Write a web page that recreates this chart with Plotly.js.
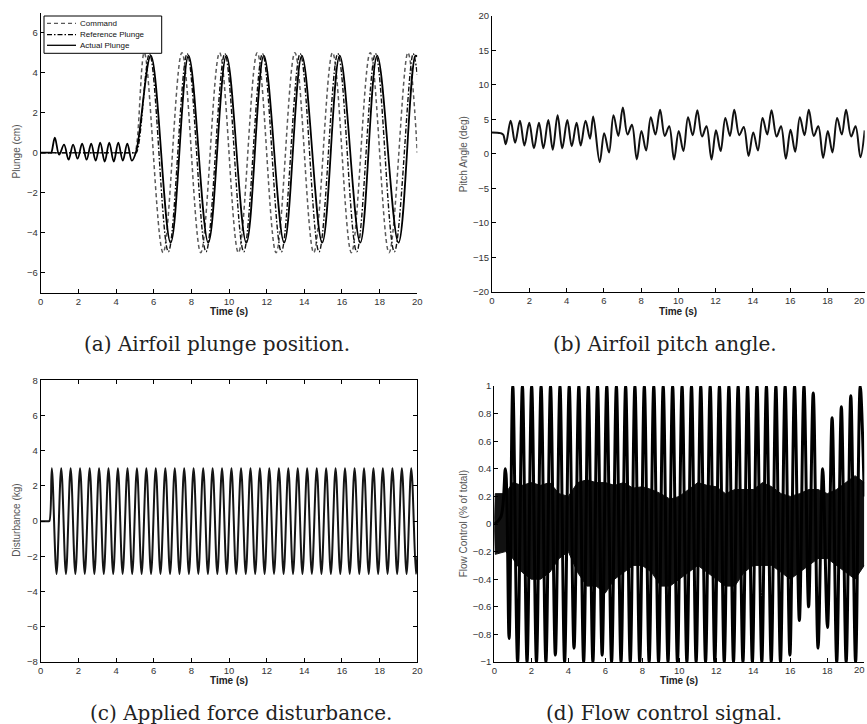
<!DOCTYPE html>
<html>
<head>
<meta charset="utf-8">
<script src="https://cdn.plot.ly/plotly-3.0.1.min.js"></script>
<style>
  html, body { margin: 0; padding: 0; background: #fff; }
  #fig { width: 867px; height: 724px; }
</style>
</head>
<body>
<div id="fig"></div>
<script>
// ---------- (a) plunge position, cm ----------
// turning points of each signal (time in s)
const commandT = [0, 4.9, 5.0, 5.5, 6.5, 7.5, 8.5, 9.5, 10.5, 11.5, 12.5, 13.5, 14.5, 15.5, 16.5, 17.5, 18.5, 19.5, 20.0];
const commandV = [0, 0, 0, 5, -5, 5, -5, 5, -5, 5, -5, 5, -5, 5, -5, 5, -5, 5, 0];

const referenceT = [0, 4.95, 5.08, 5.78, 6.78, 7.78, 8.78, 9.78, 10.78, 11.78, 12.78, 13.78, 14.78, 15.78, 16.78, 17.78, 18.78, 19.78, 20.0];
const referenceV = [0, 0, 0, 4.95, -4.95, 4.95, -4.95, 4.95, -4.95, 4.95, -4.95, 4.95, -4.95, 4.95, -4.95, 4.95, -4.95, 4.95, 3.9];

const actualT = [0, 0.5, 0.56, 0.75, 0.98, 1.24, 1.48, 1.72, 1.96, 2.2, 2.44, 2.68, 2.92, 3.16, 3.4, 3.64, 3.88, 4.12, 4.36, 4.6, 4.84, 5.08,
                 5.85, 6.9, 7.85, 8.9, 9.86, 10.92, 11.85, 12.93, 13.87, 14.95, 15.88, 16.97, 17.87, 19.0, 19.9, 20.0];
const actualV = [0, 0, 0, 0.75, -0.1, 0.4, -0.35, 0.4, -0.3, 0.45, -0.35, 0.45, -0.4, 0.5, -0.45, 0.5, -0.45, 0.5, -0.4, 0.45, -0.4, 0.1,
                 4.85, -4.5, 4.85, -4.5, 4.85, -4.5, 4.85, -4.5, 4.85, -4.5, 4.85, -4.5, 4.85, -4.5, 4.85, 4.8];

// ---------- (b) pitch angle, deg ----------
const pitchT = [0, 0.45, 0.6, 0.74, 1.0, 1.24, 1.5, 1.74, 2.0, 2.25, 2.52, 2.76, 3.02, 3.26, 3.52, 3.77, 4.04, 4.28, 4.54, 4.76,
                5.02, 5.26, 5.43, 5.78, 6.02, 6.28, 6.52, 6.78, 7.02, 7.27, 7.51, 7.77, 8.02, 8.27, 8.52, 8.77, 9.02, 9.27, 9.51, 9.77,
                10.02, 10.27, 10.52, 10.77, 11.02, 11.27, 11.51, 11.78, 12.02, 12.27, 12.52, 12.77, 13.0, 13.27, 13.51, 13.77,
                14.02, 14.27, 14.52, 14.77, 15.0, 15.27, 15.51, 15.77, 16.02, 16.27, 16.52, 16.77, 17.0, 17.27, 17.51, 17.77,
                18.02, 18.27, 18.52, 18.77, 19.0, 19.27, 19.51, 19.77, 20.0];
const pitchV = [3.1, 3.0, 2.8, 1.4, 4.8, 1.6, 4.8, 1.2, 4.5, 0.8, 4.5, 0.8, 4.9, 0.6, 5.6, 0.8, 4.9, 1.1, 4.5, 1.2,
                4.8, 2.2, 5.4, -1.2, 3.0, 0.2, 5.6, 2.6, 6.7, 2.8, 4.2, -0.8, 3.3, 0.5, 5.3, 2.8, 6.4, 2.6, 4.0, -0.8,
                3.3, 0.4, 5.3, 2.7, 6.3, 2.5, 4.0, -0.8, 3.4, 0.4, 5.2, 2.6, 6.4, 2.7, 3.9, -0.3,
                3.1, 0.5, 5.2, 2.8, 6.3, 2.5, 4.0, -0.7, 3.5, 0.3, 5.3, 2.7, 6.4, 2.6, 4.0, -0.6,
                3.3, 0.2, 5.2, 2.8, 6.4, 2.5, 4.0, -0.5, 3.4];

// ---------- (c) applied force disturbance, kg ----------
const disturbT = [0, 0.4, 0.46,
  0.59, 0.84, 1.09, 1.34, 1.59, 1.84, 2.09, 2.34, 2.6, 2.85, 3.1, 3.35, 3.6, 3.85, 4.1, 4.35, 4.61, 4.86, 5.11, 5.36,
  5.61, 5.86, 6.11, 6.36, 6.62, 6.87, 7.12, 7.37, 7.62, 7.87, 8.12, 8.37, 8.63, 8.88, 9.13, 9.38, 9.63, 9.88,
  10.13, 10.38, 10.64, 10.89, 11.14, 11.39, 11.64, 11.89, 12.14, 12.39, 12.65, 12.9, 13.15, 13.4, 13.65, 13.9,
  14.15, 14.4, 14.66, 14.91, 15.16, 15.41, 15.66, 15.91, 16.16, 16.41, 16.67, 16.92, 17.17, 17.42, 17.67, 17.92,
  18.17, 18.42, 18.68, 18.93, 19.18, 19.43, 19.68, 19.93, 20.0];
const disturbV = [0, 0, 0,
  3, -3, 3, -3, 3, -3, 3, -3, 3, -3, 3, -3, 3, -3, 3, -3, 3, -3, 3, -3,
  3, -3, 3, -3, 3, -3, 3, -3, 3, -3, 3, -3, 3, -3, 3, -3, 3, -3,
  3, -3, 3, -3, 3, -3, 3, -3, 3, -3, 3, -3, 3, -3, 3, -3,
  3, -3, 3, -3, 3, -3, 3, -3, 3, -3, 3, -3, 3, -3, 3, -3,
  3, -3, 3, -3, 3, -3, 3, -3, -2.0];

// ---------- (d) flow control signal, fraction of total ----------
// large swings (turning points)
const flowT = [0, 0.35, 0.6, 0.8,
  1.0, 1.26, 1.52, 1.77, 2.02, 2.28, 2.53, 2.79, 3.04, 3.3, 3.55, 3.8, 4.05, 4.31, 4.57, 4.83,
  5.08, 5.33, 5.58, 5.83, 6.08, 6.34, 6.6, 6.85, 7.1, 7.35, 7.6, 7.86, 8.11, 8.37, 8.62, 8.88,
  9.13, 9.39, 9.64, 9.9, 10.15, 10.41, 10.66, 10.91, 11.16, 11.42, 11.67, 11.92, 12.17, 12.43, 12.68, 12.93,
  13.18, 13.44, 13.69, 13.95, 14.2, 14.46, 14.71, 14.97, 15.22, 15.47, 15.72, 15.98, 16.23, 16.49, 16.74, 16.99,
  17.24, 17.5, 17.75, 18.01, 18.26, 18.51, 18.76, 19.02, 19.27, 19.53, 19.78, 20.0];
const flowV = [0, 0.05, 0.4, -0.83,
  1, -1, 1, -1, 1, -1, 1, -1, 1, -0.95, 1, -1, 1, -0.9, 1, -1,
  1, -1, 1, -0.95, 1, -1, 1, -1, 1, -1, 1, -1, 1, -1, 1, -1,
  1, -1, 1, -1, 1, -1, 1, -1, 1, -1, 1, -1, 1, -1, 1, -1,
  1, -1, 1, -1, 1, -1, 1, -1, 1, -1, 1, -0.95, 1, -0.7, 1, -0.6,
  0.95, -0.9, 0.4, -0.75, 0.77, -1, 0.85, -1, 0.93, -1, 1, 0.2];
// envelope of the dense fast-switching band
const bandT  = [0, 0.05, 0.6, 1, 1.5, 2, 2.5, 3, 3.5, 4, 4.5, 5, 5.5, 6, 6.5, 7, 7.5, 8, 8.5, 9, 9.5, 10,
                10.5, 11, 11.5, 12, 12.5, 13, 13.5, 14, 14.5, 15, 15.5, 16, 16.5, 17, 17.5, 18, 18.5, 19, 19.5, 20];
const bandHi = [0, 0.22, 0.22, 0.3, 0.28, 0.3, 0.28, 0.3, 0.22, 0.2, 0.3, 0.32, 0.3, 0.3, 0.28, 0.3, 0.26, 0.27, 0.25, 0.22, 0.18, 0.2,
                0.25, 0.3, 0.28, 0.27, 0.22, 0.25, 0.25, 0.25, 0.3, 0.27, 0.22, 0.2, 0.22, 0.25, 0.25, 0.22, 0.25, 0.3, 0.35, 0.3];
const bandLo = [0, -0.22, -0.2, -0.25, -0.35, -0.4, -0.4, -0.35, -0.25, -0.2, -0.35, -0.45, -0.45, -0.5, -0.4, -0.35, -0.3, -0.3, -0.35, -0.45, -0.45, -0.4,
                -0.35, -0.3, -0.35, -0.4, -0.45, -0.45, -0.35, -0.3, -0.3, -0.3, -0.35, -0.4, -0.35, -0.3, -0.25, -0.25, -0.3, -0.35, -0.4, -0.3];

// ---------- text ----------
const legendNames = ['Command', 'Reference Plunge', 'Actual Plunge'];
const captions = ['(a) Airfoil plunge position.', '(b) Airfoil pitch angle.',
                  '(c) Applied force disturbance.', '(d) Flow control signal.'];
const yTitles = ['Plunge (cm)', 'Pitch Angle (deg)', 'Disturbance (kg)', 'Flow Control (% of total)'];
const xTitle = 'Time (s)';
const timeTicks = [0, 2, 4, 6, 8, 10, 12, 14, 16, 18, 20];
const timeTickText = ['0', '2', '4', '6', '8', '10', '12', '14', '16', '18', '20'];

// ---------- layout helpers (pixel -> paper) ----------
const W = 867, H = 724;
const px = v => v / W;
const py = v => 1 - v / H;
const SANS = 'Liberation Sans, Arial, Helvetica, sans-serif';
const TICKFONT = { family: SANS, size: 9.5, color: '#333' };

function axis(extra) {
  return Object.assign({
    showline: true, linecolor: '#000', linewidth: 1,
    ticks: 'inside', ticklen: 4, tickwidth: 1, tickcolor: '#000',
    showgrid: false, zeroline: false, fixedrange: true,
    tickfont: TICKFONT
  }, extra);
}
// left-hand panels: all time labels on the axis
const xFull = { range: [0, 20], tickmode: 'array', tickvals: timeTicks, ticktext: timeTickText };
// right-hand panels: the last label sits against the page edge and is set separately
const xEdge = { range: [0, 20], tickmode: 'array', tickvals: timeTicks,
                ticktext: timeTickText.slice(0, -1).concat(['']) };

const traces = [
  { x: commandT, y: commandV, xaxis: 'x', yaxis: 'y', mode: 'lines', name: legendNames[0],
    line: { color: '#5a5a5a', width: 1.5, dash: '4px,3px', shape: 'spline' } },
  { x: referenceT, y: referenceV, xaxis: 'x', yaxis: 'y', mode: 'lines', name: legendNames[1],
    line: { color: '#111', width: 1.4, dash: '5px,2px,1.5px,2px', shape: 'spline' } },
  { x: actualT, y: actualV, xaxis: 'x', yaxis: 'y', mode: 'lines', name: legendNames[2],
    line: { color: '#000', width: 1.8, shape: 'spline' } },

  { x: pitchT, y: pitchV, xaxis: 'x2', yaxis: 'y2', mode: 'lines', name: 'Pitch',
    line: { color: '#111', width: 2, shape: 'spline' } },

  { x: disturbT, y: disturbV, xaxis: 'x3', yaxis: 'y3', mode: 'lines', name: 'Disturbance',
    line: { color: '#151515', width: 2, shape: 'spline' } },

  { x: bandT, y: bandLo, xaxis: 'x4', yaxis: 'y4', mode: 'lines', name: 'band low',
    line: { color: '#111', width: 1 } },
  { x: bandT, y: bandHi, xaxis: 'x4', yaxis: 'y4', mode: 'lines', name: 'band high',
    fill: 'tonexty', fillcolor: '#111', line: { color: '#111', width: 1 } },
  { x: flowT, y: flowV, xaxis: 'x4', yaxis: 'y4', mode: 'lines', name: 'Flow Control',
    line: { color: '#000', width: 3, shape: 'spline' } }
];

// hand-drawn legend box for panel (a)
const legRows = [23.3, 34.7, 45.3];
const legStyles = [
  { color: '#5a5a5a', width: 1.3, dash: '4px,3px' },
  { color: '#000', width: 1.3, dash: '5px,2px,1.5px,2px' },
  { color: '#000', width: 1.3, dash: 'solid' }
];
const shapes = [
  { type: 'rect', xref: 'paper', yref: 'paper', x0: px(44), x1: px(161.7), y0: py(53.3), y1: py(16),
    line: { color: '#000', width: 1 }, fillcolor: '#fff', layer: 'above' }
].concat(legRows.map((r, i) => ({
  type: 'line', xref: 'paper', yref: 'paper', x0: px(47), x1: px(76), y0: py(r), y1: py(r),
  line: legStyles[i], layer: 'above'
})));

const annotations = [];
legRows.forEach((r, i) => annotations.push({
  text: legendNames[i], xref: 'paper', yref: 'paper', x: px(78), y: py(r),
  xanchor: 'left', yanchor: 'middle', showarrow: false,
  font: { family: SANS, size: 8, color: '#111' }
}));

const capPos = [[216.5, 344], [665, 344], [240.5, 713], [664, 713]];
captions.forEach((c, i) => annotations.push({
  text: c, xref: 'paper', yref: 'paper', x: px(capPos[i][0]), y: py(capPos[i][1]),
  xanchor: 'center', yanchor: 'middle', showarrow: false,
  font: { family: 'DejaVu Serif, serif', size: 20, color: '#222' }
}));

const xTitleY = [311.7, 311.7, 680.7, 680.7];
['x', 'x2', 'x3', 'x4'].forEach((ax, i) => annotations.push({
  text: xTitle, xref: ax, yref: 'paper', x: 10, y: py(xTitleY[i]),
  xanchor: 'center', yanchor: 'middle', showarrow: false,
  font: { family: SANS, size: 10, color: '#222', weight: 'bold' }
}));

// last time label of the right-hand panels, kept inside the page
[[300.5], [669.5]].forEach(r => annotations.push({
  text: timeTickText[timeTickText.length - 1], xref: 'paper', yref: 'paper',
  x: 1, y: py(r[0]), xanchor: 'right', yanchor: 'middle', showarrow: false,
  font: TICKFONT
}));

const yTitlePos = [[16.7, 151.7], [463.3, 154], [17, 520.7], [463.3, 524]];
yTitles.forEach((t, i) => annotations.push({
  text: t, xref: 'paper', yref: 'paper', x: px(yTitlePos[i][0]), y: py(yTitlePos[i][1]),
  xanchor: 'center', yanchor: 'middle', textangle: -90, showarrow: false,
  font: { family: SANS, size: 10, color: '#555' }
}));

const layout = {
  width: W, height: H,
  margin: { l: 0, r: 0, t: 0, b: 0 },
  paper_bgcolor: '#fff', plot_bgcolor: '#fff',
  showlegend: false,
  xaxis:  axis(Object.assign({ domain: [px(40.7), px(417.3)], anchor: 'y' }, xFull)),
  yaxis:  axis({ domain: [py(292.7), py(12.7)], anchor: 'x', range: [-7, 7], dtick: 2 }),
  xaxis2: axis(Object.assign({ domain: [px(492), px(864.7)], anchor: 'y2' }, xEdge)),
  yaxis2: axis({ domain: [py(292), py(15.7)], anchor: 'x2', range: [-20, 20], dtick: 5 }),
  xaxis3: axis(Object.assign({ domain: [px(40.7), px(417.3)], anchor: 'y3', mirror: 'ticks' }, xFull)),
  yaxis3: axis({ domain: [py(662), py(380.3)], anchor: 'x3', range: [-8, 8], dtick: 2, mirror: 'ticks' }),
  xaxis4: axis(Object.assign({ domain: [px(494.3), px(864.3)], anchor: 'y4' }, xEdge)),
  yaxis4: axis({ domain: [py(662), py(386)], anchor: 'x4', range: [-1, 1], dtick: 0.2 }),
  shapes: shapes,
  annotations: annotations
};

Plotly.newPlot('fig', traces, layout, { staticPlot: true });
</script>
</body>
</html>
